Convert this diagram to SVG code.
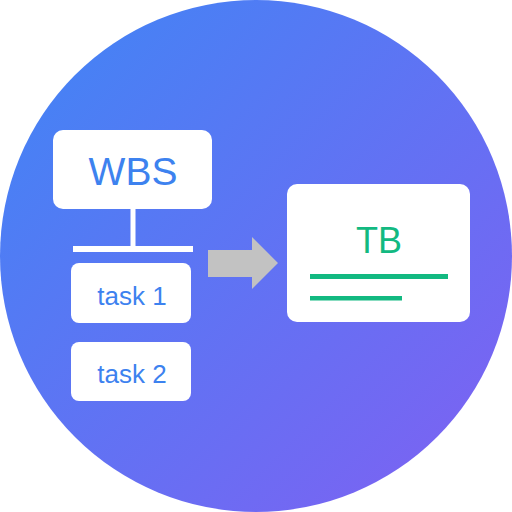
<svg xmlns="http://www.w3.org/2000/svg" width="512" height="512" viewBox="0 0 512 512">
<defs>
<linearGradient id="bg" x1="0" y1="0" x2="1" y2="1">
<stop offset="0" stop-color="#3f86f5"/>
<stop offset="1" stop-color="#8060f2"/>
</linearGradient>
<style>
.box{fill:#fff}
.blue{font-family:"Liberation Sans",Arial,sans-serif;fill:#3d82ef;text-anchor:middle}
.green{fill:#12b981}
</style>
</defs>
<circle cx="256" cy="256" r="256" fill="url(#bg)"/>
<g id="connectors">
<rect x="130.5" y="208" width="5" height="41" fill="#fff"/>
<rect x="73" y="246" width="120" height="6" fill="#fff"/>
<polygon points="208,250 252,250 252,237 278,263 252,289 252,277 208,277" fill="#c2c2c2"/>
</g>
<g id="wbs">
<rect class="box" x="53" y="130" width="159" height="79" rx="10"/>
<text class="blue" x="133" y="185" font-size="39">WBS</text>
</g>
<g id="task1">
<rect class="box" x="71" y="263" width="120" height="60" rx="8"/>
<text class="blue" x="132" y="305" font-size="26">task 1</text>
</g>
<g id="task2">
<rect class="box" x="71" y="342" width="120" height="59" rx="8"/>
<text class="blue" x="132" y="383" font-size="26">task 2</text>
</g>
<g id="tb">
<rect class="box" x="287" y="184" width="183" height="138" rx="10"/>
<text x="379" y="253" font-size="36" font-family="Liberation Sans,Arial,sans-serif" text-anchor="middle" fill="#12b981">TB</text>
<rect class="green" x="310" y="274" width="138" height="5"/>
<rect class="green" x="310" y="296" width="92" height="4.5"/>
</g>
</svg>
